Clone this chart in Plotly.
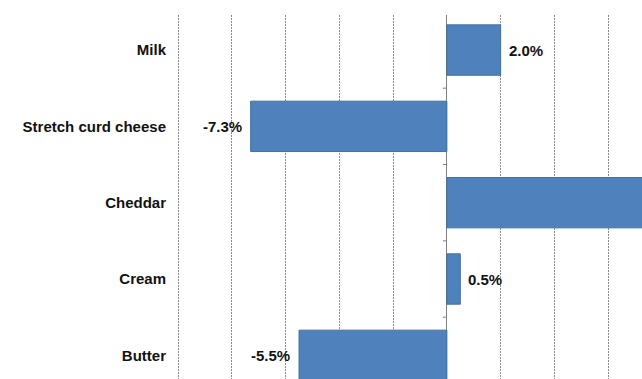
import plotly.graph_objects as go

# Year-on-year change by dairy product (%)
products = ["Milk", "Stretch curd cheese", "Cheddar", "Cream", "Butter"]
change_pct = [2.0, -7.3, 8.6, 0.5, -5.5]
labels = ["2.0%", "-7.3%", "8.6%", "0.5%", "-5.5%"]

positions = list(range(len(products)))
FONT = "Liberation Sans, Arial, sans-serif"

fig = go.Figure()
fig.add_trace(go.Bar(
    x=change_pct,
    y=positions,
    orientation="h",
    width=0.66,
    marker=dict(color="#4F81BD", line=dict(color="#41719C", width=1)),
    hoverinfo="skip",
))

# value labels placed just beyond the end of each bar
for p, v, t in zip(positions, change_pct, labels):
    fig.add_annotation(
        x=v, y=p, xref="x", yref="y", text="<b>%s</b>" % t,
        showarrow=False,
        xanchor="left" if v >= 0 else "right",
        xshift=6 if v >= 0 else -7,
        font=dict(family=FONT, size=15, color="#111111"),
    )

# small tick marks on the zero axis between categories
for b in [-0.5] + [p + 0.5 for p in positions[:-1]]:
    fig.add_shape(
        type="line", xref="x", yref="y", xsizemode="pixel", xanchor=0,
        x0=-4, x1=0, y0=b, y1=b,
        line=dict(color="#808080", width=1),
    )

fig.update_layout(
    width=642, height=379,
    margin=dict(l=177, r=0, t=15, b=0),
    paper_bgcolor="white",
    plot_bgcolor="white",
    showlegend=False,
    font=dict(family=FONT, size=15, color="#111111"),
    xaxis=dict(
        range=[-10.04, 7.26],
        dtick=2,
        tick0=0,
        showticklabels=False,
        showgrid=True,
        gridcolor="#8c8c8c",
        gridwidth=1,
        griddash="2px,1px",
        zeroline=True,
        zerolinecolor="#808080",
        zerolinewidth=1,
        showline=False,
        fixedrange=True,
    ),
    yaxis=dict(
        range=[4.31, -0.459],
        tickmode="array",
        tickvals=positions,
        ticktext=["<b>%s</b>" % p for p in products],
        showgrid=False,
        zeroline=False,
        showline=False,
        ticks="",
        ticklabelstandoff=10,
        tickfont=dict(family=FONT, size=15, color="#111111"),
        fixedrange=True,
    ),
)

fig.write_html("out.html")
